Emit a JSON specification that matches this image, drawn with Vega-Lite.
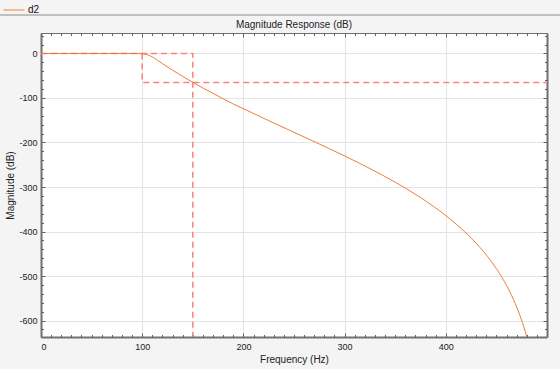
{
  "$schema": "https://vega.github.io/schema/vega-lite/v6.json",
  "width": 506,
  "height": 304,
  "autosize": {"type": "none"},
  "padding": {"left": 41, "top": 33, "right": 13, "bottom": 32},
  "background": "#f4f4f4",
  "config": {
    "view": {"fill": "white", "stroke": null},
    "font": "Liberation Sans",
    "axis": {"labelFont": "Liberation Sans", "titleFont": "Liberation Sans", "labelColor": "#222222", "titleColor": "#222222", "tickColor": "#606060", "domainColor": "#707070", "gridColor": "#e4e4e4", "gridWidth": 1, "tickWidth": 1}
  },
  "title": {"text": "Magnitude Response (dB)", "fontSize": 10, "fontWeight": "normal", "color": "#222222", "offset": 5, "anchor": "middle", "font": "Liberation Sans", "baseline": "bottom", "dy": 46},
  "datasets": {
    "curve": [
      {"f": 0, "db": 0}, {"f": 20, "db": 0}, {"f": 40, "db": 0}, {"f": 60, "db": 0}, {"f": 80, "db": 0}, {"f": 90, "db": 0},
      {"f": 95, "db": -0.06}, {"f": 100, "db": -0.44}, {"f": 103, "db": -1.3}, {"f": 106, "db": -3.4}, {"f": 110, "db": -7.8},
      {"f": 115, "db": -15.3}, {"f": 120, "db": -22.9}, {"f": 130, "db": -37.6}, {"f": 140, "db": -51.4}, {"f": 150, "db": -65},
      {"f": 160, "db": -77.6}, {"f": 175, "db": -95.7}, {"f": 190, "db": -113.5}, {"f": 200, "db": -124}, {"f": 225, "db": -150.9},
      {"f": 250, "db": -177.1}, {"f": 275, "db": -203.4}, {"f": 300, "db": -230.2}, {"f": 325, "db": -258.6}, {"f": 350, "db": -289.2},
      {"f": 375, "db": -323.7}, {"f": 400, "db": -364.1}, {"f": 415, "db": -392.7}, {"f": 430, "db": -426.3}, {"f": 445, "db": -467.4},
      {"f": 455, "db": -501.3}, {"f": 465, "db": -543.6}, {"f": 472, "db": -580.9}, {"f": 477, "db": -613.8}, {"f": 480, "db": -637},
      {"f": 483, "db": -664.2}, {"f": 486, "db": -696.5}
    ],
    "maskA": [
      {"f": 0, "db": 0, "o": 1}, {"f": 150, "db": 0, "o": 2}, {"f": 150, "db": -637, "o": 3}
    ],
    "maskB": [
      {"f": 100, "db": 0, "o": 1}, {"f": 100, "db": -65, "o": 2}, {"f": 500, "db": -65, "o": 3}
    ],
    "sep": [
      {"f": -45, "f2": 520, "db": 86.4}
    ]
  },
  "resolve": {"axis": {"x": "independent", "y": "independent"}},
  "layer": [
    {
      "data": {"name": "maskA"},
      "mark": {"type": "line", "stroke": "#ff7f7f", "strokeWidth": 1.5, "strokeDash": [6, 4], "clip": true},
      "encoding": {
        "x": {"field": "f", "type": "quantitative", "scale": {"domain": [0, 500], "nice": false, "zero": false},
          "axis": {"orient": "bottom", "values": [0, 100, 200, 300, 400], "grid": true, "ticks": true, "tickSize": -4, "labelPadding": 9, "labelFontSize": 9, "domain": true, "domainWidth": 2, "title": "Frequency (Hz)", "titleFontSize": 10, "titleFontWeight": "normal", "titlePadding": 3}},
        "y": {"field": "db", "type": "quantitative", "scale": {"domain": [-637, 46], "nice": false, "zero": false},
          "axis": {"orient": "left", "values": [-600, -500, -400, -300, -200, -100, 0], "labelExpr": "'' + datum.value", "grid": true, "ticks": true, "tickSize": -4, "labelPadding": 8, "labelFontSize": 9, "domain": true, "domainWidth": 2, "title": "Magnitude (dB)", "titleFontSize": 10, "titleFontWeight": "normal", "titlePadding": 3}},
        "order": {"field": "o", "type": "quantitative"}
      }
    },
    {
      "data": {"name": "maskB"},
      "mark": {"type": "line", "stroke": "#ff7f7f", "strokeWidth": 1.5, "strokeDash": [6, 4], "clip": true},
      "encoding": {
        "x": {"field": "f", "type": "quantitative", "scale": {"domain": [0, 500], "nice": false, "zero": false},
          "axis": {"orient": "bottom", "values": [10, 20, 30, 40, 50, 60, 70, 80, 90, 110, 120, 130, 140, 150, 160, 170, 180, 190, 210, 220, 230, 240, 250, 260, 270, 280, 290, 310, 320, 330, 340, 350, 360, 370, 380, 390, 410, 420, 430, 440, 450, 460, 470, 480, 490], "grid": false, "ticks": true, "tickSize": -2.5, "labels": false, "domain": false, "title": null}},
        "y": {"field": "db", "type": "quantitative", "scale": {"domain": [-637, 46], "nice": false, "zero": false},
          "axis": {"orient": "left", "values": [-620, -580, -560, -540, -520, -480, -460, -440, -420, -380, -360, -340, -320, -280, -260, -240, -220, -180, -160, -140, -120, -80, -60, -40, -20, 20, 40], "grid": false, "ticks": true, "tickSize": -2.5, "labels": false, "domain": false, "title": null}},
        "order": {"field": "o", "type": "quantitative"}
      }
    },
    {
      "data": {"name": "curve"},
      "mark": {"type": "line", "strokeWidth": 1, "clip": true, "interpolate": "monotone"},
      "encoding": {
        "x": {"field": "f", "type": "quantitative", "scale": {"domain": [0, 500], "nice": false, "zero": false},
          "axis": {"orient": "top", "values": [0, 100, 200, 300, 400, 500], "grid": false, "ticks": true, "tickSize": -4, "labels": false, "domain": true, "domainWidth": 1, "title": null}},
        "y": {"field": "db", "type": "quantitative", "scale": {"domain": [-637, 46], "nice": false, "zero": false},
          "axis": {"orient": "right", "values": [-600, -500, -400, -300, -200, -100, 0], "grid": false, "ticks": true, "tickSize": -4, "labels": false, "domain": true, "domainWidth": 2, "title": null}},
        "color": {"datum": "d2", "type": "nominal", "scale": {"domain": ["d2"], "range": ["#ef7c3a"]},
          "legend": {"orient": "none", "legendX": -38, "legendY": -34, "title": null, "symbolType": "stroke", "symbolSize": 441, "symbolStrokeWidth": 1, "labelFontSize": 10, "labelColor": "#111111", "labelOffset": 3, "padding": 0, "labelFont": "Liberation Sans"}}
      }
    },
    {
      "data": {"name": "sep"},
      "mark": {"type": "rule", "stroke": "#8c8c8c", "strokeWidth": 1, "clip": false},
      "encoding": {
        "x": {"field": "f", "type": "quantitative", "scale": {"domain": [0, 500], "nice": false, "zero": false},
          "axis": {"orient": "top", "values": [10, 20, 30, 40, 50, 60, 70, 80, 90, 110, 120, 130, 140, 150, 160, 170, 180, 190, 210, 220, 230, 240, 250, 260, 270, 280, 290, 310, 320, 330, 340, 350, 360, 370, 380, 390, 410, 420, 430, 440, 450, 460, 470, 480, 490], "grid": false, "ticks": true, "tickSize": -2.5, "labels": false, "domain": false, "title": null}},
        "x2": {"field": "f2"},
        "y": {"field": "db", "type": "quantitative", "scale": {"domain": [-637, 46], "nice": false, "zero": false},
          "axis": {"orient": "right", "values": [-620, -580, -560, -540, -520, -480, -460, -440, -420, -380, -360, -340, -320, -280, -260, -240, -220, -180, -160, -140, -120, -80, -60, -40, -20, 20, 40], "grid": false, "ticks": true, "tickSize": -2.5, "labels": false, "domain": false, "title": null}}
      }
    }
  ]
}
